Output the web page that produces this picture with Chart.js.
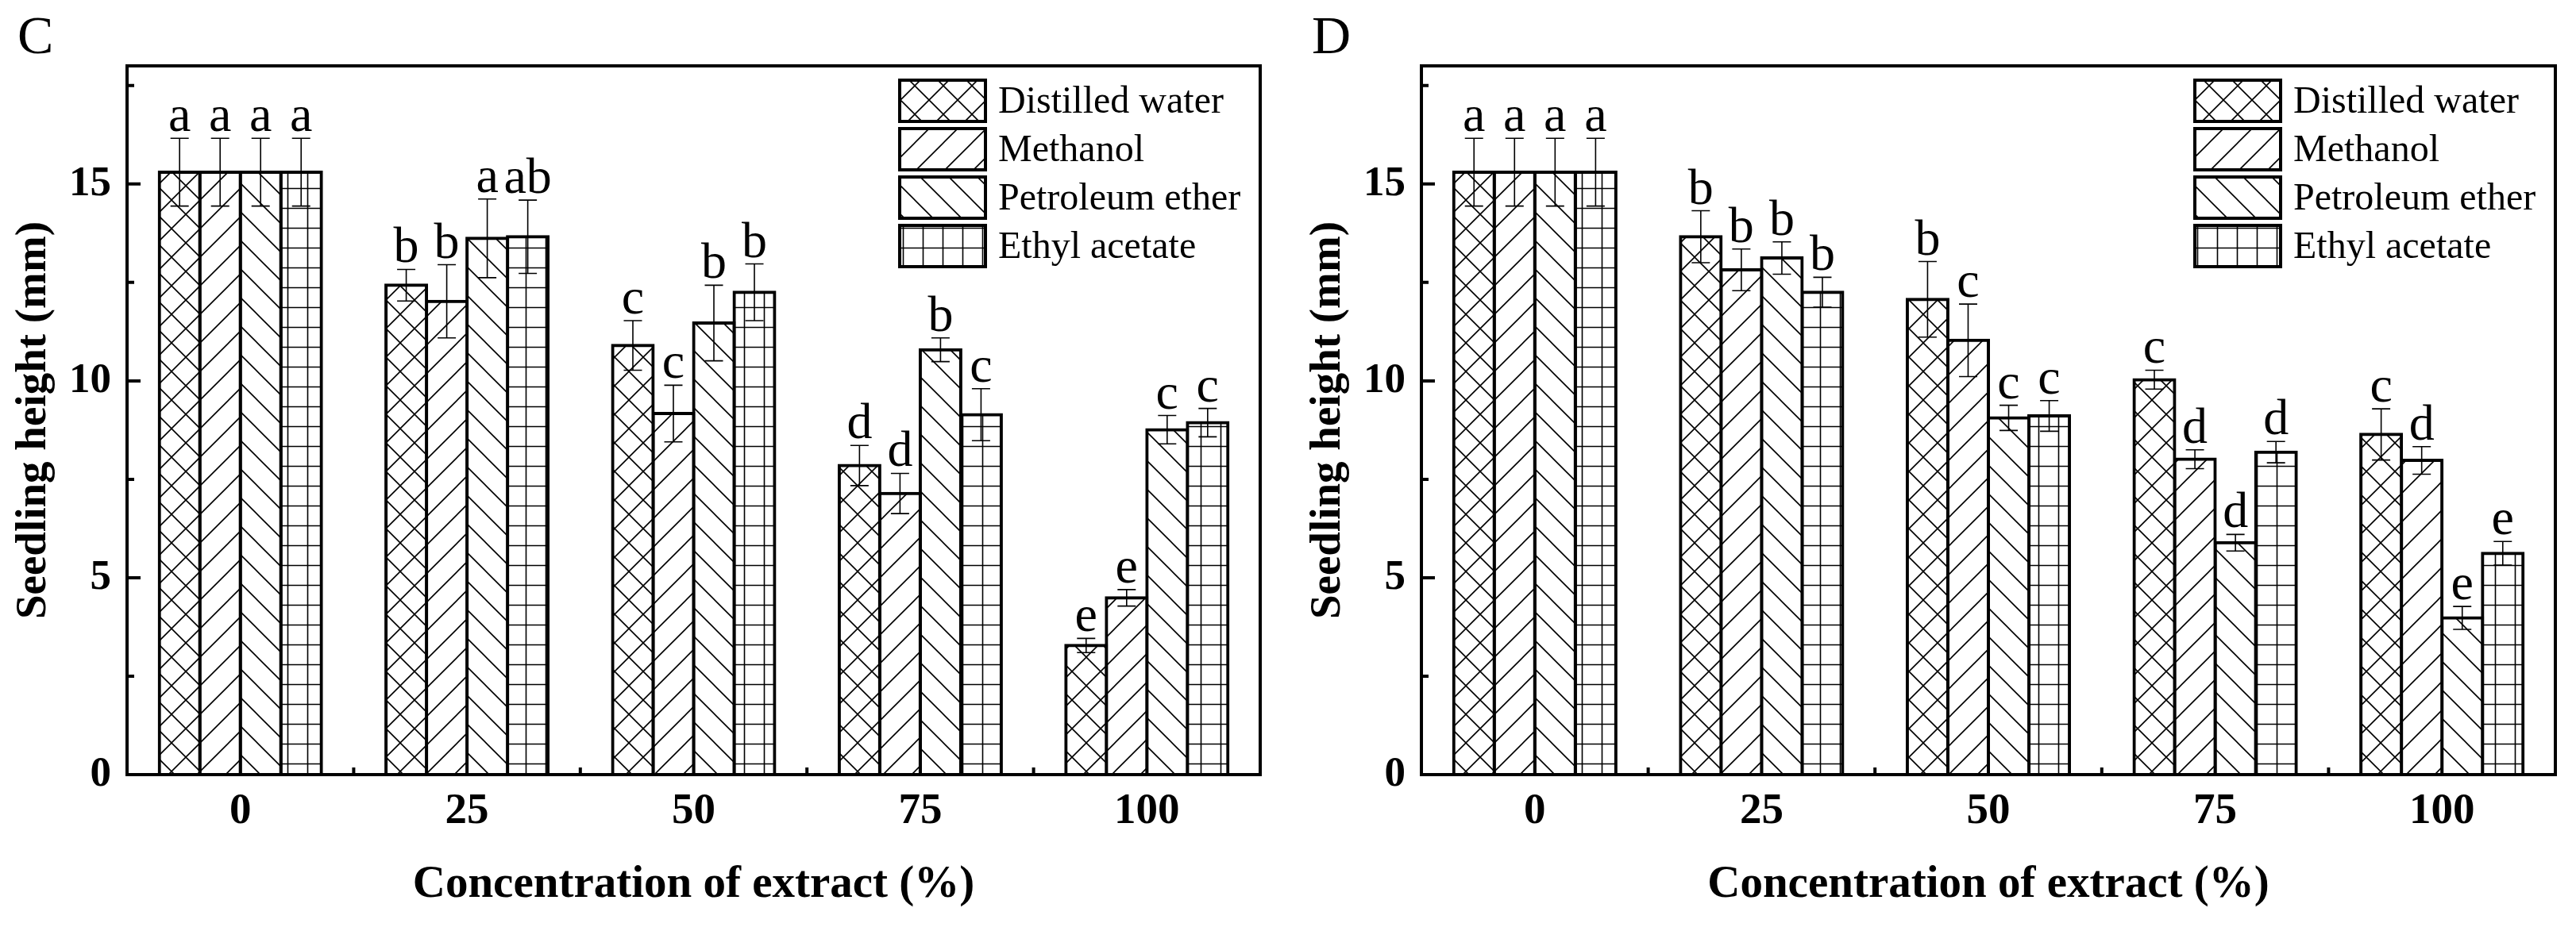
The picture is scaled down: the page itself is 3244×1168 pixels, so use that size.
<!DOCTYPE html>
<html>
<head>
<meta charset="utf-8">
<script src="https://cdn.jsdelivr.net/npm/chart.js@4.4.0/dist/chart.umd.min.js"></script>
<style>
body{margin:0;background:#fff;}
#wrap{position:relative;width:3244px;height:1168px;background:#fff;}
.panel{position:absolute;top:0;}
</style>
</head>
<body>
<div id="wrap">
  <div class="panel" style="left:0"><canvas id="chartC" width="1630" height="1168"></canvas></div>
  <div class="panel" style="left:1630px"><canvas id="chartD" width="1614" height="1168"></canvas></div>
</div>
<script>
// data
const categories = ['0', '25', '50', '75', '100'];
const seriesNames = ['Distilled water', 'Methanol', 'Petroleum ether', 'Ethyl acetate'];
const yTicks = [0, 5, 10, 15];
const yMinorTicks = [2.5, 7.5, 12.5, 17.5];

// panel C
const cWater = [15.3, 12.43, 10.9, 7.85, 3.28];
const cMethanol = [15.3, 12.02, 9.17, 7.14, 4.49];
const cPetrol = [15.3, 13.62, 11.47, 10.79, 8.76];
const cEthyl = [15.3, 13.66, 12.25, 9.14, 8.94];
const cWaterErr = [0.86, 0.4, 0.63, 0.51, 0.18];
const cMethanolErr = [0.86, 0.93, 0.72, 0.51, 0.21];
const cPetrolErr = [0.86, 1.0, 0.96, 0.3, 0.36];
const cEthylErr = [0.86, 0.93, 0.72, 0.66, 0.36];
const cWaterLet = ['a', 'b', 'c', 'd', 'e'];
const cMethanolLet = ['a', 'b', 'c', 'd', 'e'];
const cPetrolLet = ['a', 'a', 'b', 'b', 'c'];
const cEthylLet = ['a', 'ab', 'b', 'c', 'c'];

// panel D
const dWater = [15.3, 13.66, 12.07, 10.03, 8.64];
const dMethanol = [15.3, 12.82, 11.03, 8.01, 7.98];
const dPetrol = [15.3, 13.12, 9.06, 5.89, 3.98];
const dEthyl = [15.3, 12.25, 9.11, 8.19, 5.62];
const dWaterErr = [0.86, 0.66, 0.96, 0.24, 0.65];
const dMethanolErr = [0.86, 0.53, 0.92, 0.24, 0.35];
const dPetrolErr = [0.86, 0.41, 0.32, 0.21, 0.29];
const dEthylErr = [0.86, 0.38, 0.39, 0.27, 0.30];
const dWaterLet = ['a', 'b', 'b', 'c', 'c'];
const dMethanolLet = ['a', 'b', 'c', 'd', 'd'];
const dPetrolLet = ['a', 'b', 'c', 'd', 'e'];
const dEthylLet = ['a', 'b', 'c', 'd', 'e'];

const SERIF = '"Liberation Serif", "Times New Roman", serif';
Chart.defaults.font.family = SERIF;
Chart.defaults.color = '#000';

/********** hatch patterns **********/
function makePattern(kind){
    let s = kind == 'grid' ? 25 : 36;
    let c = document.createElement('canvas');
    c.width = s; c.height = s;
    let g = c.getContext('2d');
    g.fillStyle = '#fff';
    g.fillRect(0, 0, s, s);
    g.strokeStyle = '#000';
    g.lineWidth = 1.6;
    g.beginPath();
    if(kind == 'fwd' || kind == 'cross'){
        g.moveTo(0, s); g.lineTo(s, 0);
        g.moveTo(-2, 2); g.lineTo(2, -2);
        g.moveTo(s-2, s+2); g.lineTo(s+2, s-2);
    }
    if(kind == 'back' || kind == 'cross'){
        g.moveTo(0, 0); g.lineTo(s, s);
        g.moveTo(s-2, -2); g.lineTo(s+2, 2);
        g.moveTo(-2, s-2); g.lineTo(2, s+2);
    }
    if(kind == 'grid'){
        g.moveTo(s/2, 0); g.lineTo(s/2, s);
        g.moveTo(0, s/2); g.lineTo(s, s/2);
    }
    g.stroke();
    return g.createPattern(c, 'repeat');
}
const patterns = [makePattern('cross'), makePattern('fwd'), makePattern('back'), makePattern('grid')];

/********** plugin : frame, ticks, error bars, letters, legend, panel label **********/
const decoPlugin = {
    id: 'deco',
    afterDatasetsDraw(chart, args, opts){
        const ctx = chart.ctx;
        const a = chart.chartArea;
        const xs = chart.scales.x, ys = chart.scales.y;
        ctx.save();
        // error bars + letters
        chart.data.datasets.forEach((ds, i) => {
            const meta = chart.getDatasetMeta(i);
            meta.data.forEach((bar, j) => {
                const v = ds.data[j], e = ds.errs[j];
                const yt = ys.getPixelForValue(v + e);
                const yb = ys.getPixelForValue(v - e);
                ctx.strokeStyle = '#000';
                ctx.lineWidth = 1.6;
                ctx.beginPath();
                ctx.moveTo(bar.x, yt); ctx.lineTo(bar.x, yb);
                ctx.moveTo(bar.x - 11.5, yt); ctx.lineTo(bar.x + 11.5, yt);
                ctx.moveTo(bar.x - 11.5, yb); ctx.lineTo(bar.x + 11.5, yb);
                ctx.stroke();
                ctx.fillStyle = '#000';
                ctx.font = '64px ' + SERIF;
                ctx.textAlign = 'center';
                ctx.textBaseline = 'alphabetic';
                ctx.fillText(ds.letters[j], bar.x, yt - 9);
            });
        });
        // frame
        ctx.lineWidth = 4;
        ctx.strokeStyle = '#000';
        ctx.strokeRect(a.left, a.top, a.right - a.left, a.bottom - a.top);
        // y ticks inside
        ctx.beginPath();
        yTicks.forEach(v => { let y = ys.getPixelForValue(v); ctx.moveTo(a.left, y); ctx.lineTo(a.left + 17, y); });
        yMinorTicks.forEach(v => { let y = ys.getPixelForValue(v); ctx.moveTo(a.left, y); ctx.lineTo(a.left + 9, y); });
        // x ticks between groups
        for(let i = 0; i < categories.length - 1; i++){
            let x = (xs.getPixelForValue(i) + xs.getPixelForValue(i + 1)) / 2;
            ctx.moveTo(x, a.bottom); ctx.lineTo(x, a.bottom - 9);
        }
        ctx.lineWidth = 4;
        ctx.stroke();
        // legend
        const lx = a.right - 454, ly = 101;
        chart.data.datasets.forEach((ds, i) => {
            const y = ly + i * 61;
            ctx.fillStyle = ds.backgroundColor;
            ctx.fillRect(lx, y, 108, 52);
            ctx.lineWidth = 4;
            ctx.strokeRect(lx, y, 108, 52);
            ctx.fillStyle = '#000';
            ctx.font = '48px ' + SERIF;
            ctx.textAlign = 'left';
            ctx.textBaseline = 'middle';
            ctx.fillText(ds.label, lx + 124, y + 28);
        });
        // panel letter
        ctx.font = '68px ' + SERIF;
        ctx.textAlign = 'left';
        ctx.textBaseline = 'alphabetic';
        ctx.fillText(opts.text, 22, 67);
        ctx.restore();
    }
};

function buildChart(id, vals, errs, lets, panel, padRight){
    let datasets = [];
    for(let i = 0; i < seriesNames.length; i++){
        datasets.push({
            label: seriesNames[i],
            data: vals[i],
            errs: errs[i],
            letters: lets[i],
            backgroundColor: patterns[i],
            borderColor: '#000',
            borderWidth: 4,
            borderSkipped: false,
            inflateAmount: 2,
            categoryPercentage: 0.715,
            barPercentage: 1
        });
    }
    return new Chart(document.getElementById(id), {
        type: 'bar',
        data: { labels: categories, datasets: datasets },
        options: {
            responsive: false,
            animation: false,
            devicePixelRatio: 1,
            layout: { padding: { left: 0, top: 83, right: padRight, bottom: 0 } },
            plugins: {
                legend: { display: false },
                tooltip: { enabled: false },
                deco: { text: panel }
            },
            scales: {
                x: {
                    grid: { display: false, drawTicks: false },
                    border: { display: false },
                    ticks: { color: '#000', padding: 14, font: { size: 55, weight: 'bold' } },
                    title: { display: true, text: 'Concentration of extract (%)', color: '#000',
                             font: { size: 57, weight: 'bold' }, padding: { top: 0, bottom: 19 } },
                    afterFit: s => { s.height = 192; }
                },
                y: {
                    min: 0, max: 18,
                    grid: { display: false, drawTicks: false },
                    border: { display: false },
                    afterBuildTicks: s => { s.ticks = yTicks.map(v => ({ value: v })); },
                    ticks: { color: '#000', padding: 20, font: { size: 53, weight: 'bold' } },
                    title: { display: true, text: 'Seedling height (mm)', color: '#000',
                             font: { size: 55, weight: 'bold' }, padding: { top: 10, bottom: 0 } },
                    afterFit: s => { s.width = 160; }
                }
            }
        },
        plugins: [decoPlugin]
    });
}

buildChart('chartC', [cWater, cMethanol, cPetrol, cEthyl],
    [cWaterErr, cMethanolErr, cPetrolErr, cEthylErr],
    [cWaterLet, cMethanolLet, cPetrolLet, cEthylLet], 'C', 43);
buildChart('chartD', [dWater, dMethanol, dPetrol, dEthyl],
    [dWaterErr, dMethanolErr, dPetrolErr, dEthylErr],
    [dWaterLet, dMethanolLet, dPetrolLet, dEthylLet], 'D', 26);
</script>
</body>
</html>
